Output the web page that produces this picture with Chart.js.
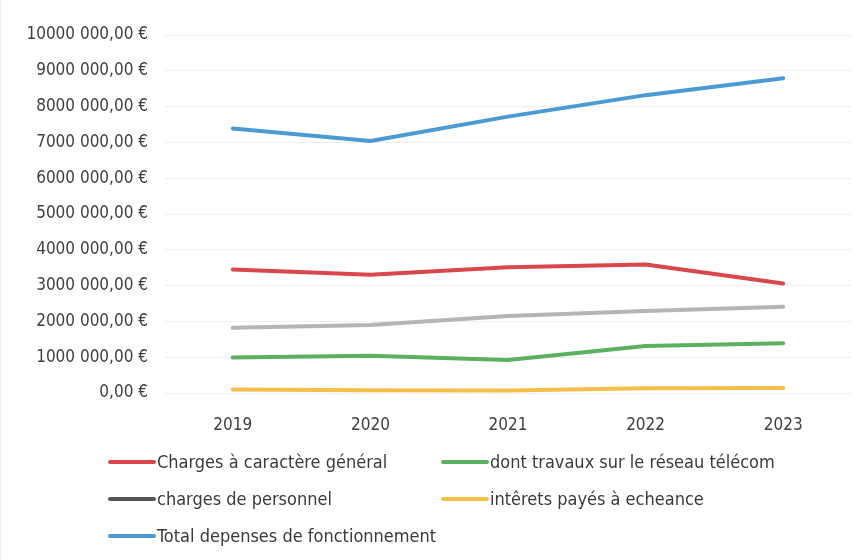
<!DOCTYPE html>
<html>
<head>
<meta charset="utf-8">
<script src="https://cdn.jsdelivr.net/npm/chart.js@4.4.1/dist/chart.umd.min.js"></script>
<style>
  html, body { margin: 0; padding: 0; background: #fff; }
  #wrap { position: relative; width: 863px; height: 560px; border-left: 1px solid #eeeeee; box-sizing: border-box; }
  #legend { position: absolute; left: 0; top: 0; width: 863px; height: 560px; pointer-events: none;
    font-family: "Liberation Sans Narrow", "DejaVu Sans Condensed", Arial, sans-serif; font-size: 18px; color: #3a3a3a; }
  .item { position: absolute; display: flex; align-items: center; white-space: nowrap; }
  .item span.line { display: inline-block; width: 48px; height: 4px; border-radius: 2px; margin-right: 1px; }
</style>
</head>
<body>
<div id="wrap">
  <canvas id="myChart" width="863" height="560"></canvas>
  <div id="legend"></div>
</div>
<script>
// Data
const years = ["2019", "2020", "2021", "2022", "2023"];
const chargesGenerales = [3450000, 3300000, 3510000, 3590000, 3060000];
const travauxTelecom = [990000, 1040000, 920000, 1310000, 1390000];
const chargesPersonnel = [1820000, 1900000, 2150000, 2290000, 2410000];
const interets = [100000, 80000, 70000, 130000, 140000];
const totalFonctionnement = [7390000, 7040000, 7720000, 8320000, 8790000];
const yTickLabels = ["0,00 €", "1000 000,00 €", "2000 000,00 €", "3000 000,00 €", "4000 000,00 €",
  "5000 000,00 €", "6000 000,00 €", "7000 000,00 €", "8000 000,00 €", "9000 000,00 €", "10000 000,00 €"];

const seriesNames = ["Charges à caractère général", "dont travaux sur le réseau télécom",
  "charges de personnel", "intêrets payés à echeance", "Total depenses de fonctionnement"];
const seriesColors = ["#d9474d", "#5cb160", "#b5b5b5", "#f3c04c", "#4a9ad4"];
const seriesValues = [chargesGenerales, travauxTelecom, chargesPersonnel, interets, totalFonctionnement];

const font = "'Liberation Sans Narrow', 'DejaVu Sans Condensed', Arial, sans-serif";

const ctx = document.getElementById("myChart").getContext("2d");
const chart = new Chart(ctx, {
  type: "line",
  data: {
    labels: years,
    datasets: seriesValues.map((vals, i) => ({
      label: seriesNames[i],
      data: vals,
      borderColor: seriesColors[i],
      backgroundColor: seriesColors[i],
      borderWidth: 4,
      pointRadius: 0,
      tension: 0,
      fill: false,
      borderCapStyle: "round",
      borderJoinStyle: "round",
    })),
  },
  options: {
    responsive: false,
    animation: false,
    layout: { padding: { left: 0, top: 35, right: 12, bottom: 127 } },
    plugins: {
      legend: { display: false },
      tooltip: { enabled: false },
    },
    scales: {
      x: {
        offset: true,
        grid: { display: false },
        border: { display: false },
        ticks: { color: "#3f3f3f", font: { family: font, size: 17 }, padding: 14 },
        afterFit: (scale) => { scale.height = 40; },
      },
      y: {
        min: 0,
        max: 10000000,
        grid: { color: "#efefef", lineWidth: 1, drawTicks: false },
        border: { display: false },
        ticks: {
          stepSize: 1000000,
          padding: 16,
          color: "#3f3f3f",
          font: { family: font, size: 17 },
          callback: (value) => yTickLabels[Math.round(value / 1000000)],
        },
        afterFit: (scale) => { scale.width = 163; },
      },
    },
  },
});

// Legend (two columns, like the original)
const legend = document.getElementById("legend");
const legendPos = [[107, 463], [440, 463], [107, 500], [440, 500], [107, 537]];
chart.data.datasets.forEach((ds, i) => {
  const item = document.createElement("div");
  item.className = "item";
  item.style.left = legendPos[i][0] + "px";
  item.style.top = (legendPos[i][1] - 12) + "px";
  const line = document.createElement("span");
  line.className = "line";
  line.style.background = i === 2 ? "#555555" : ds.borderColor;
  item.appendChild(line);
  item.appendChild(document.createTextNode(ds.label));
  legend.appendChild(item);
});
</script>
</body>
</html>
